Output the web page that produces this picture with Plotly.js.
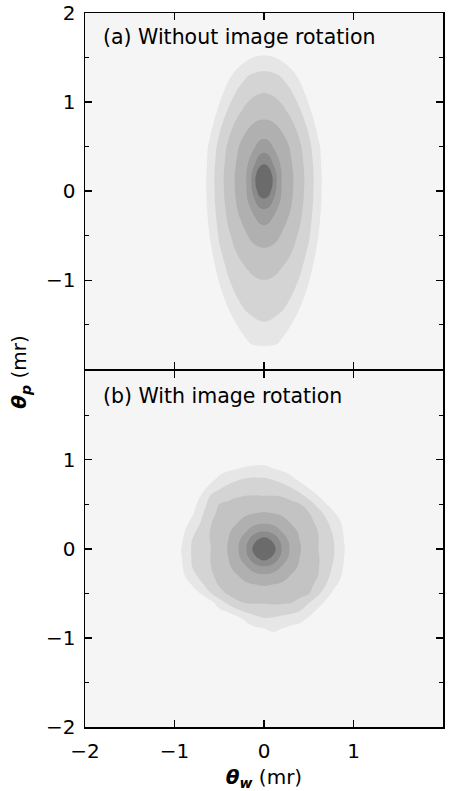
<!DOCTYPE html>
<html><head><meta charset="utf-8">
<script src="https://cdn.plot.ly/plotly-3.0.1.min.js"></script>
<style>html,body{margin:0;padding:0;background:#fff}</style>
</head><body><div id="chart" style="width:449px;height:791px"></div>
<script>
// ---- data (relative density level, contour levels 1..7) ----
const levelColors = ['#f5f5f5','#e6e6e6','#d4d4d4','#c3c3c3','#b0b0b0','#9e9e9e','#8b8b8b','#6b6b6b'];

// Panel (a): without image rotation
const xA = [-0.8,-0.7,-0.6,-0.5,-0.4,-0.3,-0.2,-0.15,-0.1,-0.05,0,0.05,0.1,0.15,0.2,0.3,0.4,0.5,0.6,0.7,0.8];
const yA = [-1.9,-1.7,-1.5,-1.3,-1.1,-0.9,-0.7,-0.5,-0.3,-0.2,-0.1,0,0.1,0.2,0.3,0.4,0.5,0.7,0.9,1.1,1.3,1.5,1.7];
const zA = [
  [0,0,0,0,0,0,0,0,0,0,0,0,0,0,0,0,0,0,0,0,0],
  [0,0,0,0,0,0,0.85,1.07,1.18,1.23,1.25,1.23,1.18,1.07,0.85,0,0,0,0,0,0],
  [0,0,0,0,0,1.04,1.53,1.70,1.82,1.90,1.92,1.90,1.82,1.70,1.53,1.04,0,0,0,0,0],
  [0,0,0,0,1.07,1.73,2.15,2.24,2.31,2.35,2.36,2.35,2.31,2.24,2.15,1.73,1.07,0,0,0,0],
  [0,0,0,0.81,1.69,2.24,2.53,2.63,2.70,2.75,2.76,2.75,2.70,2.63,2.53,2.24,1.69,0.81,0,0,0],
  [0,0,0.27,1.36,2.12,2.51,2.89,3.05,3.14,3.20,3.22,3.20,3.14,3.05,2.89,2.51,2.12,1.36,0.27,0,0],
  [0,0,0.74,1.81,2.46,3.02,3.44,3.59,3.70,3.76,3.78,3.76,3.70,3.59,3.44,3.02,2.46,1.81,0.74,0,0],
  [0,0,1.09,2.12,2.84,3.39,3.90,4.14,4.32,4.42,4.46,4.42,4.32,4.14,3.90,3.39,2.84,2.12,1.09,0,0],
  [0,0.16,1.33,2.34,3.15,3.82,4.41,4.69,4.97,5.27,5.38,5.27,4.97,4.69,4.41,3.82,3.15,2.34,1.33,0.16,0],
  [0,0.24,1.41,2.43,3.26,3.99,4.65,4.98,5.55,5.88,6.02,5.88,5.55,4.98,4.65,3.99,3.26,2.43,1.41,0.24,0],
  [0,0.31,1.48,2.50,3.35,4.11,4.82,5.34,6.04,6.63,6.83,6.63,6.04,5.34,4.82,4.11,3.35,2.50,1.48,0.31,0],
  [0,0.33,1.51,2.54,3.40,4.19,4.93,5.68,6.57,7.49,7.84,7.49,6.57,5.68,4.93,4.19,3.40,2.54,1.51,0.33,0],
  [0,0.35,1.53,2.57,3.44,4.22,4.96,5.82,6.89,8.37,8.90,8.37,6.89,5.82,4.96,4.22,3.44,2.57,1.53,0.35,0],
  [0,0.33,1.51,2.55,3.43,4.20,4.93,5.72,6.68,7.68,8.05,7.68,6.68,5.72,4.93,4.20,3.43,2.55,1.51,0.33,0],
  [0,0.28,1.45,2.49,3.35,4.11,4.81,5.32,6.04,6.73,7.02,6.73,6.04,5.32,4.81,4.11,3.35,2.49,1.45,0.28,0],
  [0,0.28,1.36,2.41,3.26,3.99,4.66,4.99,5.54,6.06,6.23,6.06,5.54,4.99,4.66,3.99,3.26,2.41,1.36,0.28,0],
  [0,0.28,1.25,2.30,3.16,3.88,4.50,4.77,4.99,5.32,5.46,5.32,4.99,4.77,4.50,3.88,3.16,2.30,1.25,0.28,0],
  [0,0,0.81,1.86,2.70,3.38,3.90,4.11,4.27,4.36,4.39,4.36,4.27,4.11,3.90,3.38,2.70,1.86,0.81,0,0],
  [0,0,0.27,1.25,2.11,2.76,3.25,3.42,3.54,3.62,3.65,3.62,3.54,3.42,3.25,2.76,2.11,1.25,0.27,0,0],
  [0,0,0,0.64,1.46,2.14,2.60,2.77,2.90,2.97,3.02,2.97,2.90,2.77,2.60,2.14,1.46,0.64,0,0,0],
  [0,0,0,0,0.75,1.39,1.89,2.06,2.17,2.24,2.26,2.24,2.17,2.06,1.89,1.39,0.75,0,0,0,0],
  [0,0,0,0,0,0.34,0.76,0.92,1.04,1.11,1.13,1.11,1.04,0.92,0.76,0.34,0,0,0,0,0],
  [0,0,0,0,0,0,0,0,0,0,0,0,0,0,0,0,0,0,0,0,0]
];

// Panel (b): with image rotation
const xB = [-1.2,-1.0,-0.8,-0.6,-0.5,-0.4,-0.3,-0.2,-0.1,0,0.1,0.2,0.3,0.4,0.5,0.6,0.8,1.0,1.2];
const yB = [-1.2,-1.0,-0.8,-0.6,-0.5,-0.4,-0.3,-0.2,-0.1,0,0.1,0.2,0.3,0.4,0.5,0.6,0.8,1.0,1.2];
const zB = [
  [0,0,0,0,0,0,0,0,0,0,0,0,0,0,0,0,0,0,0],
  [0,0,0,0,0,0,0,0,0,0,0.6,0.35,0,0,0,0,0,0,0],
  [0,0,0,0,0,0,0.49,1.14,1.58,1.83,1.78,1.59,1.43,1.21,0.78,0.04,0,0,0],
  [0,0,0,0.68,1.53,2.27,2.89,3.09,3.13,3.10,3.16,3.14,3.06,2.75,2.07,1.51,0,0,0],
  [0,0,0.28,1.93,2.66,3.13,3.33,3.48,3.57,3.57,3.58,3.52,3.40,3.25,3.07,2.21,0.57,0,0],
  [0,0,1.09,2.53,3.10,3.42,3.66,3.85,3.99,4.07,3.99,3.87,3.70,3.51,3.24,2.78,1.12,0,0],
  [0,0,1.74,2.82,3.28,3.64,3.95,4.37,4.69,4.81,4.69,4.37,3.96,3.70,3.39,3.04,1.47,0,0],
  [0,0.11,2.02,2.96,3.41,3.84,4.37,4.94,5.64,5.94,5.64,4.94,4.37,3.86,3.50,3.11,1.72,0,0],
  [0,0.22,2.11,3.00,3.50,3.99,4.69,5.64,6.82,7.46,6.82,5.64,4.69,3.99,3.57,3.12,1.87,0.03,0],
  [0,0.33,2.13,2.96,3.50,4.07,4.81,5.94,7.46,9.00,7.46,5.94,4.81,4.07,3.55,3.05,1.92,0.11,0],
  [0,0.08,2.04,3.03,3.52,3.99,4.69,5.64,6.82,7.46,6.82,5.64,4.69,3.99,3.53,3.07,1.87,0,0],
  [0,0,1.73,3.03,3.46,3.85,4.37,4.94,5.64,5.94,5.64,4.94,4.37,3.84,3.44,3.01,1.70,0,0],
  [0,0,1.24,2.92,3.34,3.68,3.95,4.37,4.69,4.81,4.69,4.37,3.94,3.63,3.27,2.80,1.43,0,0],
  [0,0,0.89,2.70,3.19,3.48,3.67,3.85,3.99,4.07,3.99,3.84,3.62,3.38,3.06,2.40,0.97,0,0],
  [0,0,0.57,2.38,3.01,3.18,3.33,3.43,3.51,3.50,3.50,3.41,3.25,3.05,2.45,1.76,0.29,0,0],
  [0,0,0.12,2.01,2.42,2.72,2.90,2.99,3.01,2.98,2.99,2.93,2.68,2.25,1.67,1.01,0,0,0],
  [0,0,0,0.52,1.15,1.55,1.81,1.96,2.01,1.99,1.85,1.58,1.16,0.64,0.04,0,0,0,0],
  [0,0,0,0,0,0,0.14,0.39,0.53,0.56,0.24,0,0,0,0,0,0,0,0],
  [0,0,0,0,0,0,0,0,0,0,0,0,0,0,0,0,0,0,0]
];

const xTicks = [-2,-1,0,1,2];
const yTicksA = [-1,0,1,2];
const yTicksB = [-2,-1,0,1];
const yMinor = [-1.5,-0.5,0.5,1.5];
const panelLabels = ['(a) Without image rotation','(b) With image rotation'];
const xTitle = '<b><i>θ</i></b><sub><b><i>w</i></b></sub> (mr)';
const yTitle = '<b><i>θ</i></b><sub><b><i>p</i></b></sub> (mr)';

// ---- chart ----
const FONT = 'DejaVu Sans, Liberation Sans, sans-serif';
const nLev = levelColors.length - 1;
const colorscale = levelColors.map((c, i) => [i / nLev, c]);

function contourTrace(x, y, z, xa, ya) {
  return {
    type: 'contour', x: x, y: y, z: z, xaxis: xa, yaxis: ya,
    contours: {start: 1, end: 7, size: 1, coloring: 'fill', showlines: false},
    colorscale: colorscale, showscale: false,
    line: {width: 0, smoothing: 1.3},
    hoverinfo: 'skip'
  };
}

const axisCommon = {
  range: [-2, 2], showgrid: false, zeroline: false,
  showline: true, linecolor: 'black', linewidth: 1.5,
  ticks: 'inside', ticklen: 7, tickwidth: 1.3, tickcolor: 'black',
  mirror: 'allticks', fixedrange: true,
  tickfont: {family: FONT, size: 20, color: 'black'}
};

const layout = {
  width: 449, height: 791,
  margin: {l: 85, r: 6, t: 13, b: 64},
  paper_bgcolor: '#ffffff', plot_bgcolor: levelColors[0],
  showlegend: false,
  font: {family: FONT, color: 'black'},
  xaxis: Object.assign({}, axisCommon, {
    anchor: 'y', domain: [0, 1], tickvals: xTicks, ticklabelstandoff: 5,
    title: {text: xTitle, font: {family: FONT, size: 20, color: 'black'}, standoff: 23}
  }),
  yaxis: Object.assign({}, axisCommon, {
    anchor: 'x', domain: [0, 0.4989], tickvals: yTicksB, ticklabelstandoff: 4,
    minor: {tickvals: yMinor, ticks: 'inside', ticklen: 4, tickwidth: 1.3, tickcolor: 'black'}
  }),
  xaxis2: Object.assign({}, axisCommon, {
    anchor: 'y2', domain: [0, 1], matches: 'x', tickvals: [-1, 0, 1], showticklabels: false
  }),
  yaxis2: Object.assign({}, axisCommon, {
    anchor: 'x2', domain: [0.5011, 1], tickvals: yTicksA, ticklabelstandoff: 4,
    minor: {tickvals: yMinor, ticks: 'inside', ticklen: 4, tickwidth: 1.3, tickcolor: 'black'}
  }),
  annotations: [
    {text: panelLabels[0], xref: 'x2', yref: 'y2', x: -1.82, y: 1.73, xanchor: 'left', yanchor: 'middle',
     showarrow: false, font: {family: FONT, size: 20.5, color: 'black'}},
    {text: panelLabels[1], xref: 'x', yref: 'y', x: -1.82, y: 1.72, xanchor: 'left', yanchor: 'middle',
     showarrow: false, font: {family: FONT, size: 20.5, color: 'black'}},
    {text: yTitle, xref: 'paper', yref: 'paper', x: -0.18, y: 0.497, xanchor: 'center', yanchor: 'middle',
     textangle: -90, showarrow: false, font: {family: FONT, size: 20, color: 'black'}}
  ]
};

Plotly.newPlot('chart', [
  contourTrace(xA, yA, zA, 'x2', 'y2'),
  contourTrace(xB, yB, zB, 'x', 'y')
], layout, {staticPlot: true, displayModeBar: false});
</script></body></html>
